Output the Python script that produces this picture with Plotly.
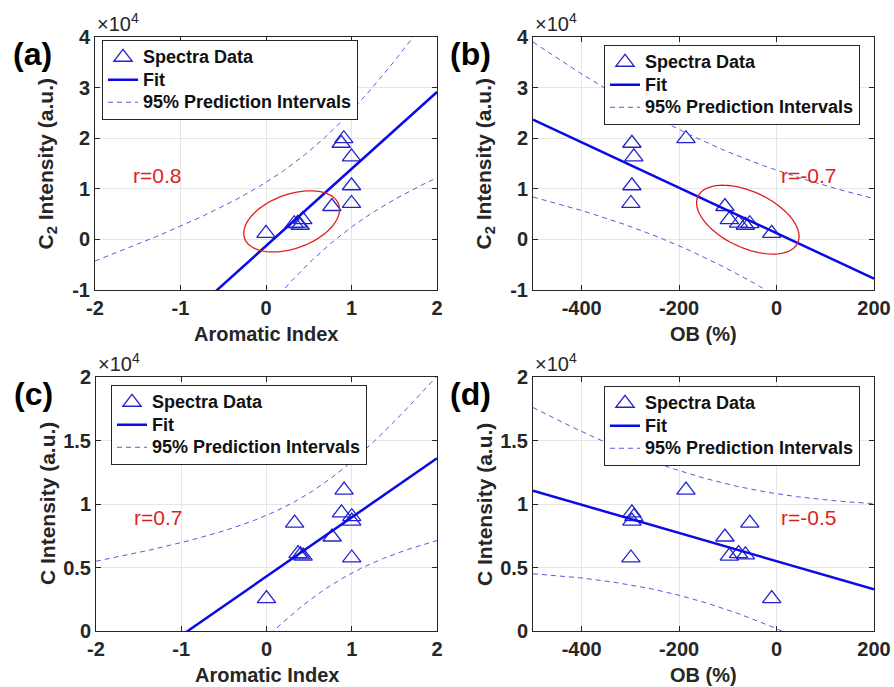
import numpy as np
import plotly.graph_objects as go

# ---------------- data ----------------
aromatic_index = [0.0, 0.33, 0.37, 0.40, 0.43, 0.77, 1.0, 1.0, 1.0, 0.88, 0.91]
ob_percent = [-10, -55, -78, -64, -97, -106, -299, -297, -293, -297, -186]
c2_intensity = [1200, 3100, 3200, 2800, 3900, 6500, 7100, 10600, 16300, 19000, 19900]
c_intensity = [2550, 8500, 6100, 6000, 5900, 7400, 5750, 8650, 9000, 9300, 11100]

panel_labels = ["(a)", "(b)", "(c)", "(d)"]
r_labels = ["r=0.8", "r=-0.7", "r=0.7", "r=-0.5"]
x_titles = ["Aromatic Index", "OB (%)", "Aromatic Index", "OB (%)"]
y_titles = ["C<sub>2</sub> Intensity (a.u.)", "C<sub>2</sub> Intensity (a.u.)",
            "C Intensity (a.u.)", "C Intensity (a.u.)"]
legend_names = ["Spectra Data", "Fit", "95% Prediction Intervals"]
ai_ticks = [-2, -1, 0, 1, 2]
ai_ticktext = ["-2", "-1", "0", "1", "2"]
ob_ticks = [-400, -200, 0, 200]
ob_ticktext = ["-400", "-200", "0", "200"]
c2_ticks = [-10000, 0, 10000, 20000, 30000, 40000]
c2_ticktext = ["-1", "0", "1", "2", "3", "4"]
c_ticks = [0, 5000, 10000, 15000, 20000]
c_ticktext = ["0", "0.5", "1", "1.5", "2"]
T975_DF9 = 2.262  # Student t quantile, 95% two-sided, 9 dof

# ---------------- geometry / style ----------------
W, H = 894, 687
FONT = "Liberation Sans, Arial, sans-serif"
DARK = "#262626"
BLUE = "#0a0ae6"
MARK = "#2424cc"
DASH = "#5a5ad8"
RED = "#e01e1e"

# axes pixel boxes (left, right, top, bottom)
boxes = [(95, 437, 37, 290), (533, 874, 37, 290), (96, 437, 377, 631), (533, 874, 377, 631)]

def px2x(p):
    return p / W

def px2y(p):
    return 1 - p / H

def legend_label(name):
    return f'<span style="font-size:18px">{name}</span>'

panels = [
    (aromatic_index, c2_intensity, [-2, 2], [-10000, 40000], ai_ticks, ai_ticktext, c2_ticks, c2_ticktext),
    (ob_percent, c2_intensity, [-500, 200], [-10000, 40000], ob_ticks, ob_ticktext, c2_ticks, c2_ticktext),
    (aromatic_index, c_intensity, [-2, 2], [0, 20000], ai_ticks, ai_ticktext, c_ticks, c_ticktext),
    (ob_percent, c_intensity, [-500, 200], [0, 20000], ob_ticks, ob_ticktext, c_ticks, c_ticktext),
]
r_pos = [(-1.27, 12700), (66, 12700), (-1.27, 8900), (66, 8900)]
legend_pos = [(102, 40), (604, 45), (111, 385), (604, 386)]

fig = go.Figure()
layout = dict(width=W, height=H, margin=dict(l=0, r=0, t=0, b=0, autoexpand=False),
              paper_bgcolor="white", plot_bgcolor="white", annotations=[], shapes=[])

for i, (xs, ys, xr, yr, xt, xtt, yt, ytt) in enumerate(panels):
    sfx = "" if i == 0 else str(i + 1)
    xa, ya = "x" + sfx, "y" + sfx
    lg = "legend" + sfx
    x = np.array(xs, float)
    y = np.array(ys, float)
    n = len(x)
    b, a = np.polyfit(x, y, 1)
    resid = y - (a + b * x)
    s = np.sqrt(np.sum(resid ** 2) / (n - 2))
    xm = x.mean()
    sxx = np.sum((x - xm) ** 2)
    xx = np.linspace(xr[0], xr[1], 300)
    yy = a + b * xx
    hw = T975_DF9 * s * np.sqrt(1 + 1 / n + (xx - xm) ** 2 / sxx)

    fig.add_trace(go.Scatter(x=xs, y=ys, mode="markers", name=legend_label(legend_names[0]),
                             marker=dict(symbol="triangle-up-open", size=16, color=MARK,
                                         line=dict(width=1.3, color=MARK)),
                             xaxis=xa, yaxis=ya, legend=lg))
    fig.add_trace(go.Scatter(x=xx, y=yy, mode="lines", name=legend_label(legend_names[1]),
                             line=dict(color=BLUE, width=2.5),
                             xaxis=xa, yaxis=ya, legend=lg))
    fig.add_trace(go.Scatter(x=xx, y=yy + hw, mode="lines", name=legend_label(legend_names[2]),
                             line=dict(color=DASH, width=1, dash="5px,4px"),
                             xaxis=xa, yaxis=ya, legend=lg))
    fig.add_trace(go.Scatter(x=xx, y=yy - hw, mode="lines", showlegend=False,
                             line=dict(color=DASH, width=1, dash="5px,4px"),
                             xaxis=xa, yaxis=ya, legend=lg))

    l, r, t, btm = boxes[i]
    axis_common = dict(ticks="inside", ticklen=5, tickcolor=DARK, showline=True,
                       linecolor=DARK, linewidth=1, mirror="ticks", showgrid=True,
                       gridcolor="#e6e6e6", gridwidth=1, zeroline=False, automargin=False,
                       tickfont=dict(family=FONT, size=20, color=DARK, weight="bold"))
    layout["xaxis" + sfx] = dict(axis_common, domain=[px2x(l), px2x(r)], range=xr,
                                 tickvals=xt, ticktext=xtt, anchor=ya)
    layout["yaxis" + sfx] = dict(axis_common, domain=[px2y(btm), px2y(t)], range=yr,
                                 tickvals=yt, ticktext=ytt, anchor=xa)
    lx, ly = legend_pos[i]
    layout[lg] = dict(x=px2x(lx), y=px2y(ly), xanchor="left", yanchor="top",
                      bgcolor="white", bordercolor=DARK, borderwidth=1,
                      font=dict(family=FONT, size=15, color="#111", weight="bold"),
                      tracegroupgap=0, itemwidth=30)

    ann = layout["annotations"]
    ann.append(dict(text=panel_labels[i], xref="paper", yref="paper",
                    x=px2x(l - 63), y=px2y(t + 17), xanchor="center", yanchor="middle",
                    showarrow=False, font=dict(family=FONT, size=32, color="black", weight="bold")))
    ann.append(dict(text="\u00d710<sup>4</sup>", xref=xa + " domain", yref=ya + " domain",
                    x=0, y=1, xanchor="left", yanchor="bottom", showarrow=False,
                    font=dict(family=FONT, size=20, color=DARK)))
    ann.append(dict(text=r_labels[i], xref=xa, yref=ya, x=r_pos[i][0], y=r_pos[i][1],
                    xanchor="center", yanchor="middle", showarrow=False,
                    font=dict(family=FONT, size=21, color=RED)))
    ann.append(dict(text=x_titles[i], xref="paper", yref="paper",
                    x=px2x((l + r) / 2), y=px2y(btm + 44), xanchor="center", yanchor="middle",
                    showarrow=False, font=dict(family=FONT, size=20, color=DARK, weight="bold")))
    ann.append(dict(text=y_titles[i], xref="paper", yref="paper", textangle=-90,
                    x=px2x(l - 49), y=px2y((t + btm) / 2), xanchor="center", yanchor="middle",
                    showarrow=False, font=dict(family=FONT, size=21, color=DARK, weight="bold")))

# red ellipses highlighting clusters: (panel, center x, center y, a px, b px, angle deg)
ellipses = [(0, 0.30, 3560, 50, 27, 20), (1, -59, 3900, 55, 28, -25)]
for (pi, cx, cy, ap, bp, ang) in ellipses:
    l, r, t, btm = boxes[pi]
    xr, yr = panels[pi][2], panels[pi][3]
    sx = (xr[1] - xr[0]) / (r - l)
    sy = (yr[1] - yr[0]) / (btm - t)
    tt = np.linspace(0, 2 * np.pi, 90)
    th = np.deg2rad(ang)
    ex, ey = ap * np.cos(tt), bp * np.sin(tt)
    X = ex * np.cos(th) - ey * np.sin(th)
    Y = ex * np.sin(th) + ey * np.cos(th)
    px = cx + X * sx
    py = cy + Y * sy
    path = "M " + " L ".join(f"{u:.5f},{v:.3f}" for u, v in zip(px, py)) + " Z"
    sfx = "" if pi == 0 else str(pi + 1)
    layout["shapes"].append(dict(type="path", path=path, xref="x" + sfx, yref="y" + sfx,
                                 line=dict(color=RED, width=1.3)))

fig.update_layout(**layout)
fig.write_html("out.html", config={"displayModeBar": False},
               post_script="document.body.style.margin='0px';document.body.style.overflow='hidden';")
